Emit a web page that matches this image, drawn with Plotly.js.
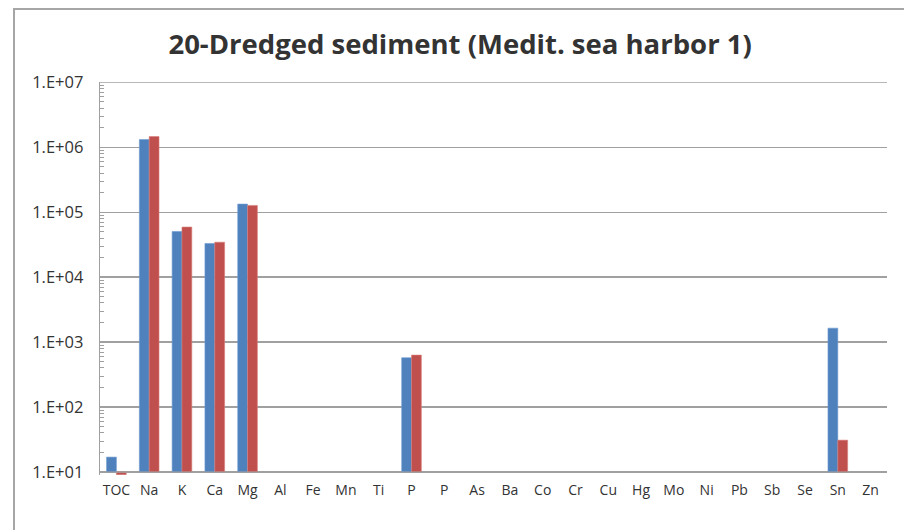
<!DOCTYPE html>
<html>
<head>
<meta charset="utf-8">
<script src="https://cdn.plot.ly/plotly-3.0.1.min.js"></script>
<style>html,body{margin:0;padding:0;background:#fff;}#chart{width:904px;height:530px;}</style>
</head>
<body>
<div id="chart"></div>
<script>
const categories = ["TOC","Na","K","Ca","Mg","Al","Fe","Mn","Ti","P","P","As","Ba","Co","Cr","Cu","Hg","Mo","Ni","Pb","Sb","Se","Sn","Zn"];
const series1 = [17, 1.31e6, 5.05e4, 3.3e4, 1.33e5, null, null, null, null, 575, null, null, null, null, null, null, null, null, null, null, null, null, 1640, null];
const series2 = [9.1, 1.46e6, 5.9e4, 3.45e4, 1.27e5, null, null, null, null, 631, null, null, null, null, null, null, null, null, null, null, null, null, 31, null];
const yTickVals = [1e1, 1e2, 1e3, 1e4, 1e5, 1e6, 1e7];
const yTickText = ["1.E+01","1.E+02","1.E+03","1.E+04","1.E+05","1.E+06","1.E+07"];

const idx = categories.map((c, i) => i);
const baseVal = 10;

const traces = [
  {type:'bar', x: idx, y: series1.map(v => v == null ? null : v - baseVal), base: baseVal,
   marker:{color:'#4f81bd', line:{color:'#6d9bd1', width:0.6}}, name:'Series1'},
  {type:'bar', x: idx, y: series2.map(v => v == null ? null : v - baseVal), base: baseVal,
   marker:{color:'#c0504d', line:{color:'#d9807d', width:0.6}}, name:'Series2'}
];

const gridShapes = [yTickVals[0], yTickVals[yTickVals.length - 1]].map(v => (
  {type:'line', xref:'paper', yref:'y', x0:0, x1:1, y0:v, y1:v, line:{color:'#a0a0a0', width:1.3}, layer:'above'}
));

const layout = {
  width: 904, height: 530,
  margin: {l:100, r:17, t:82, b:55},
  paper_bgcolor:'#ffffff', plot_bgcolor:'#ffffff',
  showlegend:false,
  barmode:'group', bargap:0.4, bargroupgap:0,
  title: {text:'20-Dredged sediment (Medit. sea harbor 1)', x:0.509, xanchor:'center', y:0.917, yanchor:'middle',
          font:{family:'"Open Sans", Lato, sans-serif', size:27.5, color:'#333333', weight:700}},
  font:{family:'"Open Sans", Lato, sans-serif', size:15, color:'#333333'},
  xaxis: {
    tickmode:'array', tickvals: idx, ticktext: categories,
    range:[-0.5, categories.length - 0.5],
    showgrid:false, zeroline:false, showline:false, ticks:'',
    tickfont:{size:14, color:'#333333'}, ticklabelstandoff: 5, fixedrange:true
  },
  yaxis: {
    type:'log', range:[0.955, 7.003],
    tickmode:'array', tickvals: yTickVals, ticktext: yTickText,
    showgrid:true, gridcolor:'#a0a0a0', gridwidth:1.3,
    showline:true, linecolor:'#a0a0a0', linewidth:1.3,
    ticks:'inside', ticklen:5, tickcolor:'#a0a0a0',
    minor:{ticks:'inside', ticklen:4, tickcolor:'#a0a0a0', dtick:'D1', showgrid:false},
    zeroline:false, tickfont:{size:16.5, color:'#333333'}, ticklabelstandoff: 12, fixedrange:true
  },
  shapes: gridShapes.concat([
    {type:'rect', xref:'paper', yref:'paper', x0:(14-100)/787, x1:(920-100)/787, y0:(472-560)/393, y1:(472-6)/393,
     line:{color:'#a6a6a6', width:2}, fillcolor:'rgba(0,0,0,0)', layer:'below'}
  ])
};
Plotly.newPlot('chart', traces, layout, {displayModeBar:false, staticPlot:true});
</script>
</body>
</html>
